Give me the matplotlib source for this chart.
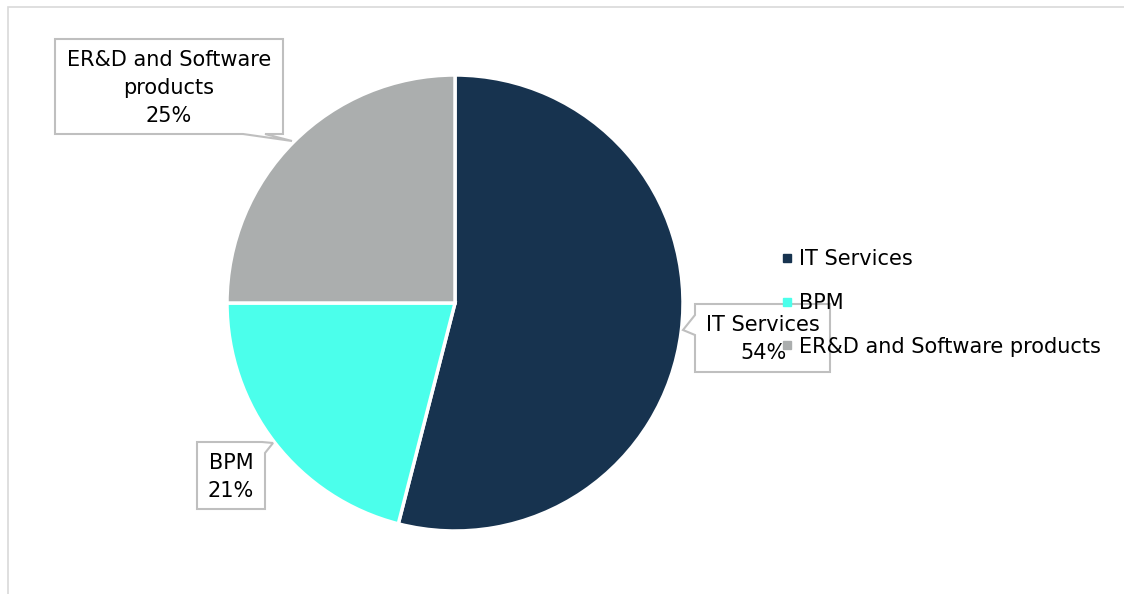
import textwrap
import matplotlib
matplotlib.use("Agg")
import matplotlib.pyplot as plt
from matplotlib.patches import Polygon, Rectangle
from matplotlib.lines import Line2D

# data
segments = ["IT Services", "BPM", "ER&D and Software products"]
shares = [54, 21, 25]
colors = ["#17334F", "#4BFFEB", "#ABAEAE"]

W, H = 1124, 594
plt.rcParams["font.family"] = ["DejaVu Sans"]
FS = 15
EDGE = "#BFBFBF"

fig = plt.figure(figsize=(W / 100, H / 100), dpi=100)
ax = fig.add_axes([0, 0, 1, 1])


def fy(y):
    # pixel row (from top) -> data y
    return H - y


# pie, clockwise from 12 o'clock
ax.pie(shares, colors=colors, startangle=90, counterclock=False,
       center=(455, fy(303)), radius=228,
       wedgeprops=dict(edgecolor="white", linewidth=2.5))
ax.set_xlim(0, W)
ax.set_ylim(0, H)
ax.set_axis_off()

# chart area frame (runs off the right/bottom edges)
ax.add_patch(Rectangle((8, fy(H + 20)), W + 20, H + 13, fill=False,
                       edgecolor="#D9D9D9", linewidth=1.2, zorder=0))


def callout(verts, cx, cy, text):
    pts = [(x, fy(y)) for x, y in verts]
    ax.add_patch(Polygon(pts, closed=True, facecolor="white",
                         edgecolor=EDGE, linewidth=1.5, zorder=5))
    ax.text(cx, fy(cy), text, ha="center", va="center", fontsize=FS,
            linespacing=1.5, zorder=6, color="black")


labels = [f"{textwrap.fill(s, 18)}\n{v}%" for s, v in zip(segments, shares)]

# IT Services: tail on the left edge
callout([(695, 304), (830, 304), (830, 372), (695, 372), (695, 335),
         (683, 330), (695, 315)], 763, 339, labels[0])
# BPM: tail at the top-right corner
callout([(197, 442), (262, 442), (273, 443), (265, 453), (265, 509),
         (197, 509)], 231, 477, labels[1])
# ER&D: tail from the bottom edge
callout([(55, 39), (283, 39), (283, 134), (265, 134), (292, 141),
         (243, 134), (55, 134)], 169, 88, labels[2])

handles = [Line2D([], [], marker="s", linestyle="", color=c, markersize=6)
           for c in colors]
leg = ax.legend(handles, segments, loc="center left",
                bbox_to_anchor=(781 / W, fy(303) / H), frameon=False,
                fontsize=FS, handlelength=0.55, handletextpad=0.3,
                labelspacing=1.14, borderpad=0, borderaxespad=0)
leg.set_zorder(10)

fig.savefig("out.png", dpi=100, facecolor="white")
